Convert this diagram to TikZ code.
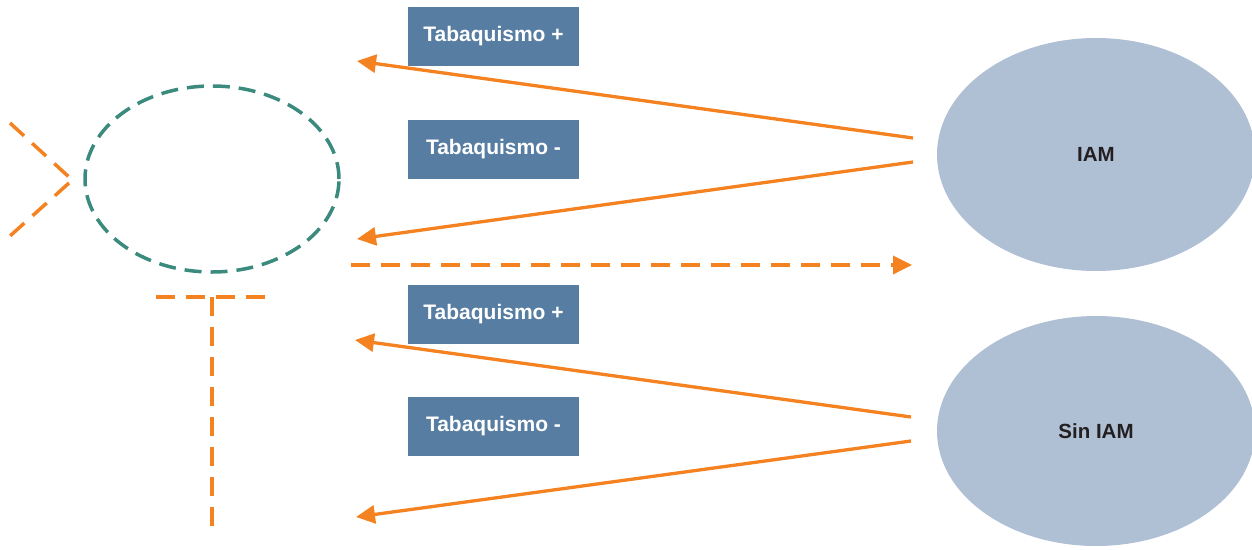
\documentclass[tikz,border=0pt]{standalone}
\usepackage{fontspec}
\setmainfont{Liberation Sans}
\usetikzlibrary{shapes.geometric,arrows.meta}
\definecolor{orng}{HTML}{F58220}
\definecolor{teal2}{HTML}{3A8A7E}
\definecolor{boxblue}{HTML}{577EA2}
\definecolor{ellblue}{HTML}{AFC0D5}
\definecolor{txtdark}{HTML}{231F20}
\tikzset{
  labelbox/.style={fill=boxblue, draw=none, minimum width=171pt, minimum height=59pt, inner sep=0pt,
    text=white, font=\bfseries\fontsize{21}{24}\selectfont},
  bigell/.style={ellipse, fill=ellblue, draw=none, inner sep=0pt, text=txtdark,
    font=\bfseries\fontsize{20.5}{24}\selectfont},
  solidarrow/.style={orng, line width=3.3pt, -{Triangle[length=19pt,width=18pt]}},
  odash/.style={draw=orng, line width=3.5pt, dash pattern=on 19pt off 11pt},
  tdash/.style={draw=teal2, line width=3.5pt, dash pattern=on 17pt off 9pt},
}
\begin{document}
\begin{tikzpicture}[x=1pt,y=-1pt]
\useasboundingbox (0,0) rectangle (1252,549);
% boxes
\node[labelbox] (b1) at (493.5,36.5) {Tabaquismo +};
\node[labelbox] (b2) at (493.5,149) {Tabaquismo -};
\node[labelbox] (b3) at (493.5,314.5) {Tabaquismo +};
\node[labelbox] (b4) at (493.5,426.5) {Tabaquismo -};
% big ellipses
\node[bigell, minimum width=318pt, minimum height=233pt] (iam) at (1096,154.5) {IAM};
\node[bigell, minimum width=318pt, minimum height=230pt] (sin) at (1096,431) {Sin IAM};
% teal dashed ellipse
\node[ellipse, tdash, minimum width=254pt, minimum height=186pt, inner sep=0pt] (circ) at (212,179) {};
% coordinates
\coordinate (t1) at (913,138);
\coordinate (h1) at (357,61);
\coordinate (t2) at (913,162);
\coordinate (h2) at (357,239);
\coordinate (t3) at (911,417);
\coordinate (h3) at (355,340);
\coordinate (t4) at (911,441);
\coordinate (h4) at (356,517);
\coordinate (ds) at (351,265);
\coordinate (de) at (912,265);
\coordinate (c1) at (10,123);
\coordinate (c2) at (69,177);
\coordinate (c3) at (69,183);
\coordinate (c4) at (10,236);
\coordinate (hl) at (156,297);
\coordinate (hr) at (265,297);
\coordinate (vt) at (212,297);
\coordinate (vb) at (212,527);
% arrows
\draw[solidarrow] (t1) -- (h1);
\draw[solidarrow] (t2) -- (h2);
\draw[solidarrow] (t3) -- (h3);
\draw[solidarrow] (t4) -- (h4);
\draw[odash, -{Triangle[length=19pt,width=18pt]}] (ds) -- (de);
% chevron and T
\draw[odash] (c1) -- (c2);
\draw[odash] (c3) -- (c4);
\draw[odash] (hl) -- (hr);
\draw[odash] (vt) -- (vb);
\end{tikzpicture}
\end{document}
